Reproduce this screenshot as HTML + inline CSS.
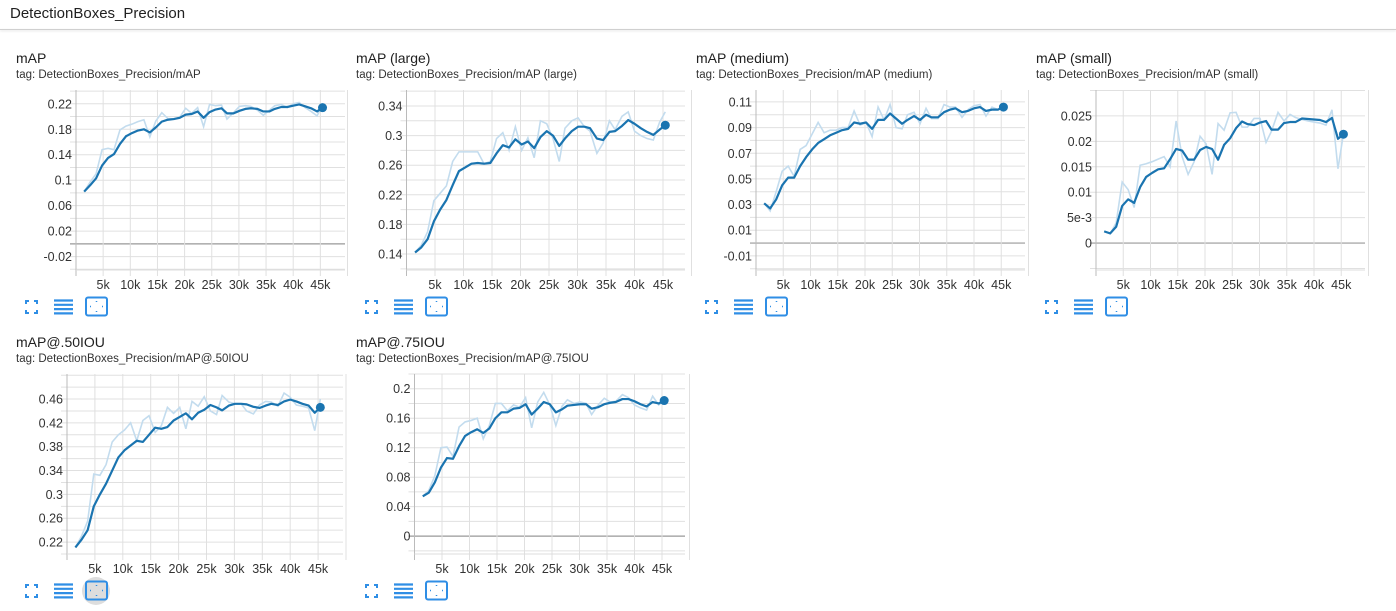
<!DOCTYPE html>
<html><head><meta charset="utf-8">
<style>
body{margin:0;width:1396px;height:611px;background:#fff;font-family:"Liberation Sans",sans-serif;overflow:hidden;position:relative;color:#212121}
.hdr{position:absolute;left:10px;top:5px;font-size:15px;color:#212121}
.hline{position:absolute;left:0;top:29px;width:1396px;height:1px;background:#d0d0d0;box-shadow:0 1px 2px rgba(0,0,0,.15)}
.ttl{position:absolute;font-size:14px;color:#212121}
.tag{position:absolute;font-size:11.5px;color:#333}
svg{position:absolute;left:0;top:0}
</style></head><body>
<div class="hdr">DetectionBoxes_Precision</div>
<div class="hline"></div>
<svg id="chart-svg" width="1396" height="611"></svg>
<div id="labels"></div>
<script>
const steps=[1.5,2.6,3.7,4.8,5.9,7.0,8.1,9.2,10.3,11.4,12.5,13.6,14.7,15.8,16.9,18.0,19.1,20.2,21.3,22.4,23.5,24.6,25.7,26.8,27.8,29.0,30.1,31.2,32.2,33.4,34.5,35.6,36.6,37.8,38.9,40.0,41.1,42.2,43.3,44.4,45.4];
const xTicks=[5,10,15,20,25,30,35,40,45];
const mapSmooth=[0.082,0.092,0.103,0.123,0.135,0.141,0.157,0.169,0.174,0.178,0.180,0.175,0.183,0.192,0.195,0.196,0.198,0.203,0.204,0.208,0.198,0.207,0.211,0.213,0.205,0.205,0.209,0.212,0.213,0.212,0.208,0.208,0.212,0.215,0.215,0.217,0.219,0.216,0.213,0.208,0.214];
const mapRaw=[0.082,0.097,0.110,0.148,0.150,0.148,0.179,0.185,0.188,0.192,0.195,0.168,0.193,0.206,0.197,0.196,0.199,0.213,0.205,0.214,0.184,0.219,0.217,0.218,0.196,0.206,0.216,0.217,0.216,0.210,0.202,0.210,0.217,0.219,0.214,0.220,0.222,0.214,0.208,0.201,0.219];
const largeSmooth=[0.142,0.149,0.160,0.184,0.200,0.213,0.233,0.252,0.257,0.262,0.263,0.262,0.263,0.276,0.287,0.284,0.295,0.288,0.292,0.283,0.298,0.306,0.300,0.286,0.296,0.306,0.312,0.312,0.310,0.296,0.294,0.305,0.306,0.313,0.321,0.316,0.310,0.305,0.301,0.308,0.314];
const largeRaw=[0.142,0.152,0.170,0.212,0.222,0.232,0.265,0.278,0.278,0.278,0.278,0.262,0.265,0.296,0.304,0.280,0.312,0.280,0.297,0.270,0.320,0.316,0.296,0.265,0.310,0.320,0.324,0.312,0.306,0.276,0.290,0.320,0.308,0.326,0.332,0.306,0.300,0.296,0.294,0.318,0.332];
const mediumSmooth=[0.031,0.027,0.034,0.045,0.051,0.051,0.060,0.067,0.073,0.078,0.081,0.084,0.086,0.088,0.089,0.094,0.093,0.094,0.089,0.096,0.096,0.101,0.097,0.093,0.096,0.099,0.096,0.100,0.098,0.098,0.102,0.104,0.105,0.102,0.103,0.105,0.106,0.103,0.104,0.104,0.106];
const mediumRaw=[0.031,0.025,0.040,0.056,0.060,0.052,0.073,0.076,0.085,0.094,0.086,0.088,0.088,0.090,0.090,0.103,0.092,0.094,0.083,0.106,0.096,0.108,0.090,0.089,0.100,0.102,0.093,0.105,0.097,0.097,0.108,0.106,0.106,0.098,0.104,0.107,0.108,0.099,0.106,0.104,0.107];
const smallSmooth=[0.0023,0.0019,0.0032,0.0073,0.0086,0.0079,0.0110,0.0130,0.0138,0.0145,0.0147,0.0165,0.0185,0.0182,0.0164,0.0164,0.0183,0.0189,0.0185,0.0164,0.0193,0.0206,0.0226,0.0239,0.0234,0.0232,0.0237,0.0240,0.0223,0.0223,0.0236,0.0238,0.0238,0.0245,0.0244,0.0243,0.0242,0.0238,0.0246,0.0205,0.0214];
const smallRaw=[0.0023,0.0018,0.0040,0.0120,0.0105,0.0070,0.0153,0.0156,0.0160,0.0165,0.0170,0.0150,0.0240,0.0170,0.0135,0.0160,0.0210,0.0195,0.0135,0.0235,0.0222,0.0256,0.0257,0.0228,0.0228,0.0245,0.0245,0.0198,0.0220,0.0257,0.0240,0.0253,0.0247,0.0243,0.0240,0.0238,0.0236,0.0232,0.0262,0.0146,0.0215];
const iou50Smooth=[0.211,0.224,0.240,0.280,0.300,0.318,0.340,0.362,0.374,0.382,0.390,0.388,0.400,0.412,0.410,0.413,0.424,0.430,0.436,0.426,0.437,0.442,0.450,0.446,0.441,0.449,0.452,0.452,0.451,0.447,0.445,0.449,0.452,0.450,0.456,0.459,0.456,0.452,0.449,0.437,0.446];
const iou50Raw=[0.211,0.230,0.255,0.334,0.332,0.350,0.388,0.400,0.408,0.420,0.390,0.424,0.432,0.404,0.415,0.446,0.436,0.446,0.410,0.456,0.448,0.464,0.440,0.434,0.466,0.455,0.452,0.452,0.440,0.435,0.450,0.456,0.455,0.448,0.470,0.463,0.450,0.448,0.445,0.407,0.460];
const iou75Smooth=[0.054,0.059,0.073,0.093,0.106,0.105,0.122,0.136,0.141,0.145,0.140,0.146,0.160,0.168,0.168,0.173,0.174,0.179,0.165,0.173,0.182,0.179,0.168,0.172,0.177,0.178,0.179,0.179,0.173,0.175,0.179,0.181,0.182,0.186,0.186,0.183,0.179,0.176,0.182,0.180,0.184];
const iou75Raw=[0.054,0.062,0.082,0.120,0.121,0.108,0.148,0.155,0.157,0.160,0.132,0.150,0.180,0.180,0.170,0.178,0.175,0.188,0.147,0.182,0.195,0.178,0.150,0.176,0.185,0.180,0.182,0.180,0.165,0.178,0.187,0.182,0.183,0.192,0.188,0.178,0.174,0.171,0.190,0.178,0.184];
const mapYLabels=[-0.02,0.02,0.06,0.1,0.14,0.18,0.22];
const largeYLabels=[0.14,0.18,0.22,0.26,0.3,0.34];
const mediumYLabels=[-0.01,0.01,0.03,0.05,0.07,0.09,0.11];
const smallYLabels=[0,0.005,0.01,0.015,0.02,0.025];
const iou50YLabels=[0.22,0.26,0.3,0.34,0.38,0.42,0.46];
const iou75YLabels=[0,0.04,0.08,0.12,0.16,0.2];

const charts=[
 {id:'map',title:'mAP',tag:'tag: DetectionBoxes_Precision/mAP',cx:16,row:0,x0:76,ppk:5.43,right:345,yd:[-0.0411,0.2417],grid:0.02,labels:mapYLabels,smooth:mapSmooth,raw:mapRaw},
 {id:'map-large',title:'mAP (large)',tag:'tag: DetectionBoxes_Precision/mAP (large)',cx:356,row:0,x0:406.5,ppk:5.7,right:685,yd:[0.1184,0.3616],grid:0.02,labels:largeYLabels,smooth:largeSmooth,raw:largeRaw},
 {id:'map-medium',title:'mAP (medium)',tag:'tag: DetectionBoxes_Precision/mAP (medium)',cx:696,row:0,x0:756,ppk:5.45,right:1025,yd:[-0.021,0.1193],grid:0.01,labels:mediumYLabels,smooth:mediumSmooth,raw:mediumRaw},
 {id:'map-small',title:'mAP (small)',tag:'tag: DetectionBoxes_Precision/mAP (small)',cx:1036,row:0,x0:1096,ppk:5.45,right:1365,yd:[-0.0053,0.0301],grid:0.005,labels:smallYLabels,smooth:smallSmooth,raw:smallRaw},
 {id:'map-50iou',title:'mAP@.50IOU',tag:'tag: DetectionBoxes_Precision/mAP@.50IOU',cx:16,row:1,x0:67,ppk:5.58,right:343,yd:[0.2,0.502],grid:0.02,labels:iou50YLabels,smooth:iou50Smooth,raw:iou50Raw,hl:true},
 {id:'map-75iou',title:'mAP@.75IOU',tag:'tag: DetectionBoxes_Precision/mAP@.75IOU',cx:356,row:1,x0:414.5,ppk:5.5,right:685,yd:[-0.0242,0.22],grid:0.02,labels:iou75YLabels,smooth:iou75Smooth,raw:iou75Raw}
];
const NS='http://www.w3.org/2000/svg';
const svg=document.getElementById('chart-svg');
function mk(tag,attrs,parent){const e=document.createElementNS(NS,tag);for(const k in attrs)e.setAttribute(k,attrs[k]);(parent||svg).appendChild(e);return e;}
function fmt(v){if(Math.abs(v)<1e-9)return '0';if(Math.abs(v-0.005)<1e-9)return '5e-3';return String(+v.toFixed(4));}
charts.forEach(c=>{
 const dy=c.row*284;
 const top=90+dy,bottom=270+dy;
 const X=k=>c.x0+k*c.ppk;
 const Y=v=>bottom-(v-c.yd[0])/(c.yd[1]-c.yd[0])*(bottom-top);
 const t=document.createElement('div');t.className='ttl';t.style.left=c.cx+'px';t.style.top=(50+dy)+'px';t.textContent=c.title;
 
 
 document.body.appendChild(t);
 const g2=document.createElement('div');g2.className='tag';g2.style.left=c.cx+'px';g2.style.top=(69+dy)+'px';g2.textContent=c.tag;
 
 
 document.body.appendChild(g2);
 const g=mk('g',{});
 
 
 const start=Math.ceil(c.yd[0]/c.grid);
 for(let i=start;i*c.grid<=c.yd[1];i++){const v=i*c.grid;const y=Y(v);
  const zero=Math.abs(v)<1e-9;
  const l=mk('line',{x1:c.x0-6,x2:c.right,y1:y,y2:y,stroke:zero?'#999':'#e0e0e0','stroke-width':zero?1.2:1},g);
  
  
 }
 for(let k=0;k<=50;k+=5){const x=X(k);
  const l=mk('line',{x1:x,x2:x,y1:top,y2:bottom+6,stroke:k==0?'#bbb':'#e0e0e0','stroke-width':1},g);
  
  
 }
 const ax=mk('line',{x1:c.x0,x2:c.right,y1:bottom,y2:bottom,stroke:'#ddd'},g);
 
 
 c.labels.forEach(v=>{const tx=mk('text',{x:c.x0-4,y:Y(v)+4.5,'text-anchor':'end','font-size':'12.5','fill':'#333'},g);tx.textContent=fmt(v);
  
  });
 xTicks.forEach(k=>{const tx=mk('text',{x:X(k),y:bottom+19,'text-anchor':'middle','font-size':'12.5','fill':'#333'},g);tx.textContent=k+'k';
  
  });
 const pr=mk('polyline',{points:steps.map((s,i)=>X(s)+','+Y(c.raw[i])).join(' '),fill:'none',stroke:'#c3dcee','stroke-width':1.6},g);
 
 
 const ps=mk('polyline',{points:steps.map((s,i)=>X(s)+','+Y(c.smooth[i])).join(' '),fill:'none',stroke:'#1a74b0','stroke-width':2.2,'stroke-linejoin':'round'},g);
 
 
 const n=steps.length-1;
 const dot=mk('circle',{cx:X(steps[n]),cy:Y(c.smooth[n]),r:4.5,fill:'#1a74b0'},g);
 
 
 const iy=300+dy, ix=c.cx;
 if(c.hl){const h=mk('circle',{cx:ix+80,cy:iy+7,r:14,fill:'#ddd'});}
 const ic1=mk('g',{stroke:'#2f8ee5','stroke-width':2,fill:'none'});
 
 
 mk('path',{d:`M${ix+10} ${iy+4}v-3h3 M${ix+18} ${iy+1}h3v3 M${ix+10} ${iy+10}v3h3 M${ix+18} ${iy+13}h3v-3`},ic1);
 const ic2=mk('g',{stroke:'#2f8ee5','stroke-width':2.2});
 
 
 for(let j=0;j<4;j++)mk('line',{x1:ix+38,x2:ix+57,y1:iy+0.5+j*4.3,y2:iy+0.5+j*4.3},ic2);
 const ic3=mk('g',{stroke:'#2f8ee5',fill:'none'});
 
 
 mk('rect',{x:ix+70,y:iy-2.5,width:21,height:18,rx:2,'stroke-width':2},ic3);
 mk('path',{d:`M${ix+80.5} ${iy+1}v1 M${ix+80.5} ${iy+11}v1 M${ix+74} ${iy+6.5}h1 M${ix+86} ${iy+6.5}h1`,'stroke-width':1.5},ic3);
});
</script>
</body></html>
